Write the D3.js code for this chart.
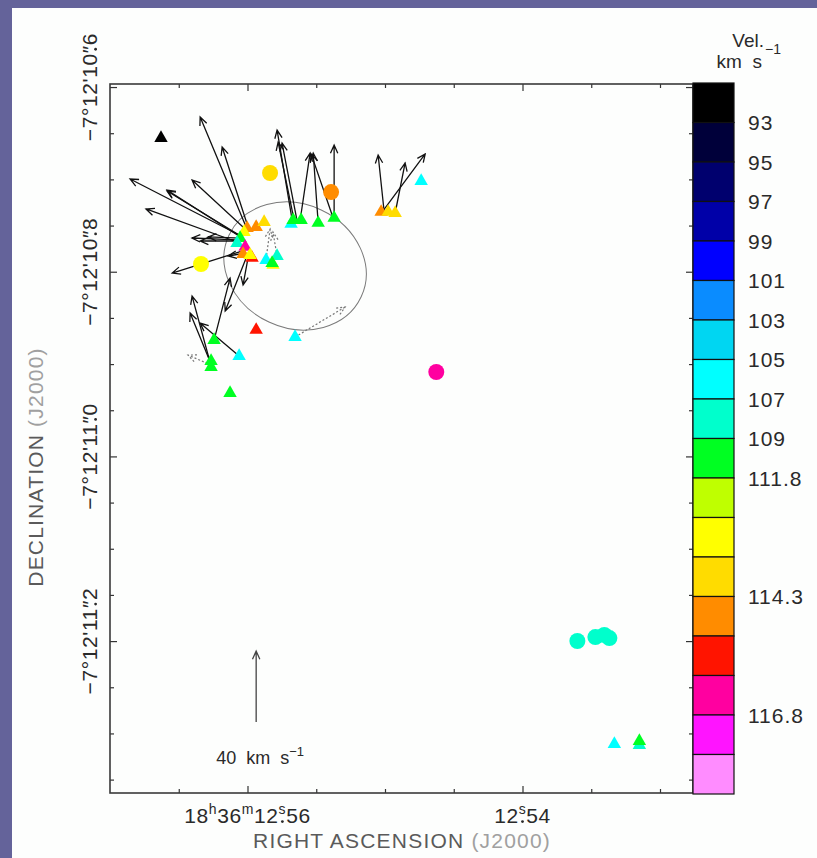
<!DOCTYPE html>
<html>
<head>
<meta charset="utf-8">
<script src="https://cdn.jsdelivr.net/npm/d3@7"></script>
<style>
  html, body { margin: 0; padding: 0; background: #64639a; }
  svg { display: block; }
  text { font-family: "Liberation Sans", Arial, sans-serif; fill: #2a2a2a; }
</style>
</head>
<body>
<div id="chart"></div>
<script>
// ---- data (RA in seconds of 18h36m12s, Dec in arcsec of -7d12m) ----
const raTicks = [12.565, 12.56, 12.555, 12.55, 12.545, 12.54, 12.535, 12.53];
const raMajor = [12.56, 12.54];
const raLabels = ['18|h|36|m|12|s|56', '12|s|54'];
const decTicks = [10.6, 10.65, 10.7, 10.75, 10.8, 10.85, 10.9, 10.95, 11.0, 11.05, 11.1, 11.15, 11.2, 11.25, 11.3, 11.35];
const decMajor = [10.6, 10.8, 11.0, 11.2];
const decLabels = ["−7°12'10|″|6", "−7°12'10|″|8", "−7°12'11|″|0", "−7°12'11|″|2"];

// velocity colour bins (km/s)
const velEdges = [93, 95, 97, 99, 101, 103, 105, 107, 109, 111.8, 112.63, 113.47, 114.3, 115.13, 115.97, 116.8, 117.63];
const binColors = ['#000000', '#00003a', '#00006e', '#0000a8', '#0000ff', '#0a8cff', '#00d6f2', '#00ffff', '#00ffcc',
  '#00ff22', '#bfff00', '#ffff00', '#ffdc00', '#ff8c00', '#ff1400', '#ff00a0', '#ff14ff', '#ff8cff'];
const cbLabels = [93, 95, 97, 99, 101, 103, 105, 107, 109, 111.8, 114.3, 116.8];

// triangles
const triRA = [12.56629, 12.54737, 12.55683, 12.55668, 12.55610, 12.55486, 12.55370, 12.55028, 12.54977, 12.54926,
  12.56003, 12.55937, 12.55879, 12.56025, 12.56054, 12.56076, 12.56017, 12.56032, 12.55967, 12.55981, 12.55865, 12.55785, 12.55814, 12.55821,
  12.55937, 12.55654, 12.56243, 12.56061, 12.56265, 12.56265, 12.56127,
  12.53332, 12.53150, 12.53150];
const triDec = [10.6552, 10.7018, 10.7483, 10.7440, 10.7440, 10.7472, 10.7418, 10.7353, 10.7353, 10.7364,
  10.7527, 10.7516, 10.7462, 10.7570, 10.7635, 10.7689, 10.7732, 10.7808, 10.7851, 10.7819, 10.7873, 10.7830, 10.7927, 10.7906,
  10.8631, 10.8707, 10.8740, 10.8913, 10.8967, 10.9032, 10.9314,
  11.3115, 11.3126, 11.3082];
const triVel = [92, 106, 106, 110.5, 110.5, 110.5, 110.5, 114.7, 113.9, 113.9,
  114.7, 114.7, 113.9, 113.0, 110.5, 108, 116.4, 114.7, 115.5, 113.0, 106, 108, 113.0, 110.5,
  115.5, 106, 110.5, 106, 110.5, 110.5, 110.5,
  106, 108, 110.5];

// circles
const dotRA = [12.55836, 12.55392, 12.56338, 12.54627, 12.53601, 12.53470, 12.53405, 12.53368];
const dotDec = [10.6931, 10.7137, 10.7916, 10.9086, 11.1999, 11.1956, 11.1934, 11.1967];
const dotVel = [113.9, 114.7, 113.0, 116.4, 108, 108, 108, 108];

// proper-motion arrows: tail position, velocity east / north (km/s)
const arrRA = [12.56010, 12.55996, 12.56047, 12.56061, 12.56039, 12.56017, 12.56076, 12.56076, 12.56068, 12.56054,
  12.56017, 12.56010, 12.55996, 12.56010, 12.55865, 12.55785, 12.56243, 12.56265, 12.56265, 12.56061,
  12.56265, 12.55654, 12.55675, 12.55661, 12.55639, 12.55617, 12.55486, 12.55377, 12.55370, 12.55006, 12.54926, 12.55020];
const arrDec = [10.7516, 10.7516, 10.7613, 10.7602, 10.7635, 10.7537, 10.7678, 10.7656, 10.7667, 10.7635,
  10.7765, 10.7797, 10.7851, 10.7851, 10.7862, 10.7830, 10.8740, 10.9021, 10.8999, 10.8913,
  10.9010, 10.8707, 10.7440, 10.7440, 10.7451, 10.7440, 10.7472, 10.7418, 10.7418, 10.7353, 10.7364, 10.7353];
const arrVE = [25.9, 14.6, 62.5, 40.6, 42.3, 29.9, 51.3, 25.4, 21.4, 18.0,
  41.1, 10.1, 2.8, 11.8, -2.3, 2.3, -9.0, 10.7, 11.8, 22.0,
  13.0, -28.2, 8.5, 9.0, 8.5, -5.6, 2.8, 12.4, 0, 3.4, -5.6, -24.2];
const arrVN = [62.0, 45.1, 32.1, 24.8, 27.0, 27.6, 18.6, 1.1, 0, 0.6,
  -13.0, -1.7, -15.2, -29.9, 16.9, 13.5, 34.9, 39.4, 28.7, 18.6,
  5.6, 16.9, 50.7, 43.9, 43.9, 37.7, 39.4, 36.1, 41.1, 32.1, 28.2, 32.7];
const arrDotted = [0, 0, 0, 0, 0, 0, 0, 0, 0, 0,
  0, 0, 0, 0, 1, 1, 0, 0, 0, 0,
  1, 1, 0, 0, 0, 0, 0, 0, 0, 0, 0, 0];

// ellipse and scale arrow
const ellRA = 12.55654, ellDec = 10.7938, ellA = 0.079, ellB = 0.067, ellPA = 25;
const scaleRA = 12.55937, scaleDec = 11.2877, scaleVel = 40;

// ---- layout ----
const W = 817, H = 858;
const svg = d3.select('#chart').append('svg').attr('width', W).attr('height', H);
svg.append('rect').attr('x', 12).attr('y', 8).attr('width', W - 12).attr('height', H - 8).attr('fill', '#fdfefd');

const x = d3.scaleLinear().domain([12.5700, 12.5276]).range([110, 693]);
const y = d3.scaleLinear().domain([10.5967, 11.3645]).range([84, 793]);
const pxPerArcsec = y(11) - y(10);
const vel = d3.scaleLinear().domain([0, 40]).range([0, 71]);
const color = d3.scaleThreshold().domain(velEdges).range(binColors);

// text with superscripts: odd parts raised; returns the last raised tspan
function addParts(t, str, supDy, supSize) {
  let last = null;
  str.split('|').forEach((p, i) => {
    if (i % 2) {
      last = t.append('tspan').attr('dy', -supDy).attr('font-size', supSize).text(p);
    } else {
      t.append('tspan').attr('dy', i ? supDy : 0).text(p);
    }
  });
  return last;
}
// decimal point drawn under the unit mark (s or ″)
function dotUnder(g, tspan) {
  const e = tspan.node().getExtentOfChar(0);
  g.append('circle').attr('cx', e.x + e.width / 2).attr('cy', -1.4).attr('r', 1.4).attr('fill', '#2a2a2a');
}

// ellipse
svg.append('ellipse')
  .attr('cx', x(ellRA)).attr('cy', y(ellDec))
  .attr('rx', ellA * pxPerArcsec).attr('ry', ellB * pxPerArcsec)
  .attr('transform', 'rotate(' + ellPA + ',' + x(ellRA) + ',' + y(ellDec) + ')')
  .attr('fill', 'none').attr('stroke', '#7a7a7a').attr('stroke-width', 1);

// arrows
function arrowPath(x0, y0, x1, y1, L) {
  const a = Math.atan2(y1 - y0, x1 - x0), s = 0.42;
  const b1 = [x1 - L * Math.cos(a - s), y1 - L * Math.sin(a - s)];
  const b2 = [x1 - L * Math.cos(a + s), y1 - L * Math.sin(a + s)];
  return 'M' + x0 + ',' + y0 + 'L' + x1 + ',' + y1 + 'M' + b1 + 'L' + x1 + ',' + y1 + 'L' + b2;
}
const arrows = arrRA.map((ra, i) => ({ ra: ra, dec: arrDec[i], ve: arrVE[i], vn: arrVN[i], dotted: arrDotted[i] }));
svg.append('g').selectAll('path').data(arrows).join('path')
  .attr('d', d => {
    const tx = x(d.ra), ty = y(d.dec);
    const hx = tx - vel(d.ve), hy = ty - vel(d.vn);
    return arrowPath(tx, ty, hx, hy, 9);
  })
  .attr('fill', 'none')
  .attr('stroke', d => d.dotted ? '#777' : '#111')
  .attr('stroke-width', d => d.dotted ? 1.2 : 1.3)
  .attr('stroke-dasharray', d => d.dotted ? '2,2' : null);

// circles
const dots = dotRA.map((ra, i) => ({ ra: ra, dec: dotDec[i], v: dotVel[i] }));
svg.append('g').selectAll('circle').data(dots).join('circle')
  .attr('cx', d => x(d.ra)).attr('cy', d => y(d.dec)).attr('r', 8)
  .attr('fill', d => color(d.v));

// triangles
const tris = triRA.map((ra, i) => ({ ra: ra, dec: triDec[i], v: triVel[i] }));
const tri = d3.symbol(d3.symbolTriangle).size(78);
svg.append('g').selectAll('path').data(tris).join('path')
  .attr('d', tri)
  .attr('transform', d => 'translate(' + x(d.ra) + ',' + y(d.dec) + ')')
  .attr('fill', d => color(d.v));

// scale arrow
const sx = x(scaleRA), sy = y(scaleDec);
svg.append('path').attr('d', arrowPath(sx, sy, sx, sy - vel(scaleVel), 9))
  .attr('fill', 'none').attr('stroke', '#444').attr('stroke-width', 1.3);
const st = svg.append('text').attr('x', sx - 40).attr('y', sy + 42).attr('font-size', 18)
  .attr('xml:space', 'preserve');
addParts(st, scaleVel + '  km  s|−1|', 8, 13);

// axes (inward ticks)
const axisG = svg.append('g').attr('stroke-width', 1.2);
function tickAxis(axisFn, pos, values, len) {
  axisG.append('g').attr('transform', pos)
    .call(axisFn.tickValues(values).tickSize(-len).tickFormat(''))
    .call(g => g.select('.domain').remove())
    .call(g => g.selectAll('line').attr('stroke', '#333'));
}
const raMinor = raTicks.filter(v => raMajor.indexOf(v) < 0);
const decMinor = decTicks.filter(v => decMajor.indexOf(v) < 0);
tickAxis(d3.axisBottom(x), 'translate(0,793)', raMinor, 4);
tickAxis(d3.axisBottom(x), 'translate(0,793)', raMajor, 7);
tickAxis(d3.axisTop(x), 'translate(0,84)', raMinor, 4);
tickAxis(d3.axisTop(x), 'translate(0,84)', raMajor, 7);
tickAxis(d3.axisLeft(y), 'translate(110,0)', decMinor, 4);
tickAxis(d3.axisLeft(y), 'translate(110,0)', decMajor, 7);
tickAxis(d3.axisRight(y), 'translate(693,0)', decMinor, 4);
tickAxis(d3.axisRight(y), 'translate(693,0)', decMajor, 7);

svg.append('rect').attr('x', 110).attr('y', 84).attr('width', 583).attr('height', 709)
  .attr('fill', 'none').attr('stroke', '#3a3a3a').attr('stroke-width', 1.6);

// tick labels
raMajor.forEach((v, i) => {
  const g = svg.append('g').attr('transform', 'translate(' + x(v) + ',823)');
  const t = g.append('text').attr('font-size', 21).attr('text-anchor', 'middle').attr('letter-spacing', 0.6);
  dotUnder(g, addParts(t, raLabels[i], 9, 14));
});
decMajor.forEach((v, i) => {
  const g = svg.append('g').attr('transform', 'translate(97,' + y(v) + ') rotate(-90)');
  const t = g.append('text').attr('font-size', 21).attr('text-anchor', 'middle').attr('letter-spacing', 0.6);
  dotUnder(g, addParts(t, decLabels[i], 0, 21));
});

// axis titles
const xt = svg.append('text').attr('x', 402).attr('y', 848).attr('font-size', 21)
  .attr('letter-spacing', 1.2).attr('text-anchor', 'middle');
xt.append('tspan').attr('fill', '#5a5a5a').text('RIGHT ASCENSION ');
xt.append('tspan').attr('fill', '#a0a0a0').text('(J2000)');
const yt = svg.append('text').attr('transform', 'translate(43,467) rotate(-90)').attr('font-size', 21)
  .attr('letter-spacing', 1.2).attr('text-anchor', 'middle');
yt.append('tspan').attr('fill', '#5a5a5a').text('DECLINATION ');
yt.append('tspan').attr('fill', '#a0a0a0').text('(J2000)');

// colour bar
const cbY = d3.scaleLinear().domain([0, binColors.length]).range([83, 794]);
const cb = svg.append('g');
cb.selectAll('rect').data(binColors).join('rect')
  .attr('x', 693).attr('y', (d, i) => cbY(i)).attr('width', 41).attr('height', cbY(1) - cbY(0))
  .attr('fill', d => d).attr('stroke', '#111').attr('stroke-width', 1.2);
cb.selectAll('text').data(cbLabels).join('text')
  .attr('x', 748).attr('y', d => cbY(velEdges.indexOf(d) + 1))
  .attr('dy', '0.36em').attr('font-size', 21).attr('letter-spacing', 1)
  .text(d => d);
svg.append('text').attr('x', 764).attr('y', 47).attr('font-size', 19).attr('text-anchor', 'end').text('Vel.');
svg.append('text').attr('x', 762).attr('y', 68).attr('font-size', 19).attr('text-anchor', 'end')
  .attr('xml:space', 'preserve').text('km  s');
svg.append('text').attr('x', 765).attr('y', 54).attr('font-size', 14).text('−1');
</script>
</body>
</html>
